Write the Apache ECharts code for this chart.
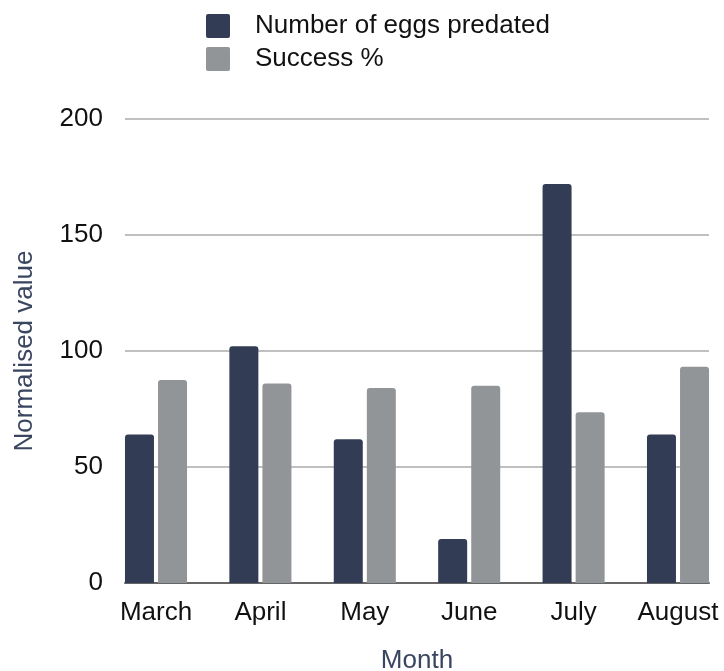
<!DOCTYPE html>
<html>
<head>
<meta charset="utf-8">
<script src="https://cdn.jsdelivr.net/npm/echarts@6/dist/echarts.min.js"></script>
<style>
html,body{margin:0;padding:0;background:#fff;}
#chart{width:724px;height:671px;}
</style>
</head>
<body>
<div id="chart"></div>
<script>
const months = ['March', 'April', 'May', 'June', 'July', 'August'];
const eggsPredated = [64, 102, 62, 19, 172, 64];
const successPct = [87.5, 86, 84, 85, 73.6, 93.2];
const yTicks = [0, 50, 100, 150, 200];

const chart = echarts.init(document.getElementById('chart'));
const font = '"Liberation Sans", Arial, sans-serif';
const squareIcon = 'path://M2,0 H22 Q24,0 24,2 V22 Q24,24 22,24 H2 Q0,24 0,22 V2 Q0,0 2,0 Z';
const option = {
  animation: false,
  backgroundColor: '#ffffff',
  legend: {
    orient: 'vertical',
    left: 206,
    top: 13,
    padding: 0,
    itemWidth: 24,
    itemHeight: 24,
    itemGap: 7,
    icon: squareIcon,
    data: ['Number of eggs predated', 'Success %'],
    textStyle: { fontFamily: font, fontSize: 26, color: '#111', padding: [0, 0, 0, 20], lineHeight: 24 }
  },
  grid: [
    { left: 125, right: 15, top: 119, bottom: 88, outerBoundsMode: 'none', containLabel: false },
    { left: 103.8, right: -6.2, top: 119, bottom: 88, outerBoundsMode: 'none', containLabel: false }
  ],
  xAxis: [
    {
      gridIndex: 0, type: 'category', data: months,
      axisLine: { show: true, lineStyle: { color: '#666666', width: 2 } },
      axisTick: { show: false }, axisLabel: { show: false },
      name: 'Month', nameLocation: 'middle', nameGap: 65,
      nameTextStyle: { fontFamily: font, fontSize: 26, color: '#3a4560' }
    },
    {
      gridIndex: 1, type: 'category', data: months,
      axisLine: { show: false }, axisTick: { show: false },
      axisLabel: { fontFamily: font, fontSize: 26, color: '#111', margin: 17, interval: 0 }
    }
  ],
  yAxis: [
    {
      gridIndex: 0, type: 'value', min: yTicks[0], max: yTicks[yTicks.length - 1], interval: 50,
      axisLine: { show: false }, axisTick: { show: false },
      axisLabel: { fontFamily: font, fontSize: 26, color: '#111', margin: 22 },
      splitLine: { lineStyle: { color: '#c0c0c0', width: 2 } },
      name: 'Normalised value', nameLocation: 'middle', nameGap: 87,
      nameTextStyle: { fontFamily: font, fontSize: 26, color: '#3a4560' }
    },
    {
      gridIndex: 1, type: 'value', min: 0, max: 200, show: false
    }
  ],
  series: [
    {
      name: 'Number of eggs predated', type: 'bar', xAxisIndex: 1, yAxisIndex: 1,
      data: eggsPredated, barWidth: 29, barGap: '14%',
      itemStyle: { color: '#323c54', borderRadius: [3, 3, 0, 0] }
    },
    {
      name: 'Success %', type: 'bar', xAxisIndex: 1, yAxisIndex: 1,
      data: successPct, barWidth: 29, barGap: '14%',
      itemStyle: { color: '#929598', borderRadius: [3, 3, 0, 0] }
    }
  ]
};
chart.setOption(option);
</script>
</body>
</html>
